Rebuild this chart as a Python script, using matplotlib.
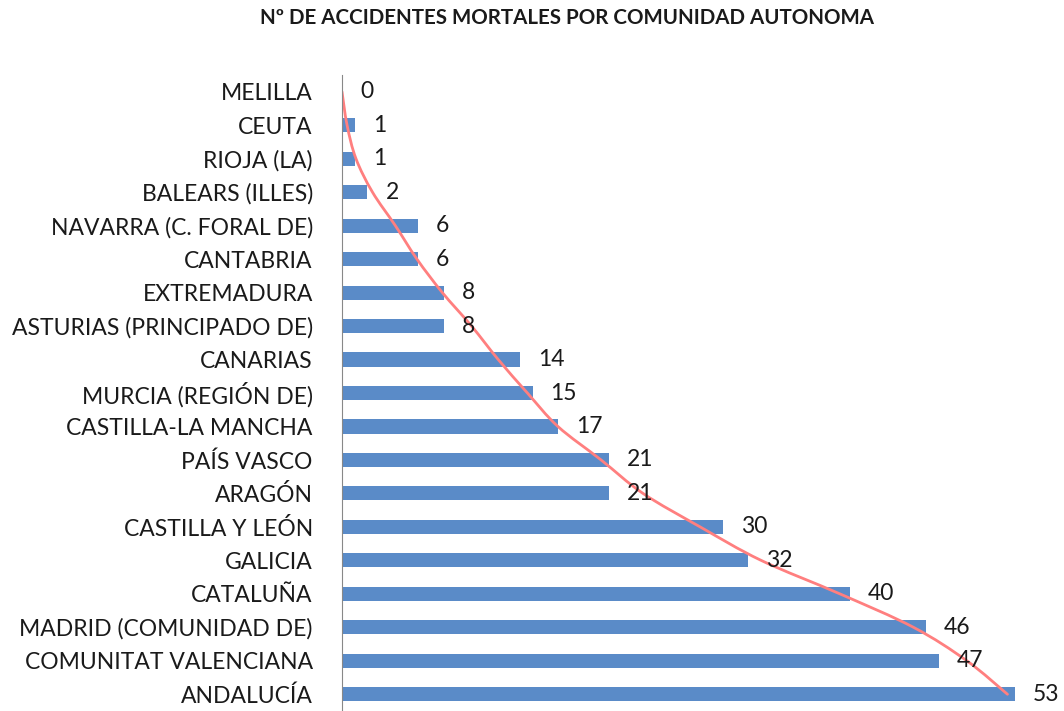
import numpy as np
import matplotlib
matplotlib.use('Agg')
from matplotlib import pyplot as plt
from matplotlib.path import Path
from matplotlib.patches import PathPatch

plt.rcParams['font.family'] = ['Lato', 'DejaVu Sans']

comunidades = ['MELILLA', 'CEUTA', 'RIOJA (LA)', 'BALEARS (ILLES)', 'NAVARRA (C. FORAL DE)',
               'CANTABRIA', 'EXTREMADURA', 'ASTURIAS (PRINCIPADO DE)', 'CANARIAS',
               'MURCIA (REGIÓN DE)', 'CASTILLA-LA MANCHA', 'PAÍS VASCO', 'ARAGÓN',
               'CASTILLA Y LEÓN', 'GALICIA', 'CATALUÑA', 'MADRID (COMUNIDAD DE)',
               'COMUNITAT VALENCIANA', 'ANDALUCÍA']
accidentes = [0, 1, 1, 2, 6, 6, 8, 8, 14, 15, 17, 21, 21, 30, 32, 40, 46, 47, 53]
# linea de tendencia
tendencia = [0, 0.4, 1.1, 2.4, 4.2, 5.9, 7.9, 10.2, 12.3, 14.6, 17.0, 20.4, 23.7,
             28.2, 33.0, 39.2, 45.0, 49.2, 52.4]


def linea_suave(ax, xs, ys, **kw):
    # linea suavizada tipo excel (catmull-rom -> bezier)
    pts = np.column_stack([xs, ys]).astype(float)
    ext = np.vstack([pts[0], pts, pts[-1]])
    verts = [pts[0]]
    codes = [Path.MOVETO]
    for i in range(1, len(ext) - 2):
        p0, p1, p2, p3 = ext[i - 1], ext[i], ext[i + 1], ext[i + 2]
        verts += [p1 + (p2 - p0) / 6, p2 - (p3 - p1) / 6, p2]
        codes += [Path.CURVE4] * 3
    ax.add_patch(PathPatch(Path(verts, codes), fill=False, **kw))


fig = plt.figure(figsize=(10.64, 7.11), dpi=100)
ax = fig.add_axes([342 / 1064, 0.0, 1 - 342 / 1064, 1 - 75 / 711])

pos = np.arange(len(comunidades))
ax.barh(pos, accidentes, height=0.42, color='#5A8BC8')
linea_suave(ax, tendencia, pos, edgecolor='#FF7F7F', lw=2, capstyle='round')

for p, v in zip(pos, accidentes):
    ax.annotate(str(v), (v, p), xytext=(18, 0), textcoords='offset pixels',
                va='center', ha='left', fontsize=16.5, color='#1a1a1a')

ax.set_xlim(0, (1064 - 342) / 12.7)
ax.set_ylim(len(pos) - 0.5, -0.5)
ax.set_yticks(pos)
ax.set_yticklabels(comunidades, fontsize=16.5, color='#1a1a1a')
ax.tick_params(axis='y', length=0, pad=21)
ax.set_xticks([])
for s in ['top', 'right', 'bottom']:
    ax.spines[s].set_visible(False)
ax.spines['left'].set_color('#888888')

fig.text(567 / 1064, 1 - 18 / 711, 'Nº DE ACCIDENTES MORTALES POR COMUNIDAD AUTONOMA',
         ha='center', va='center', fontsize=14.8, fontweight='bold', color='#1a1a1a')

fig.savefig('out.png', dpi=100)
